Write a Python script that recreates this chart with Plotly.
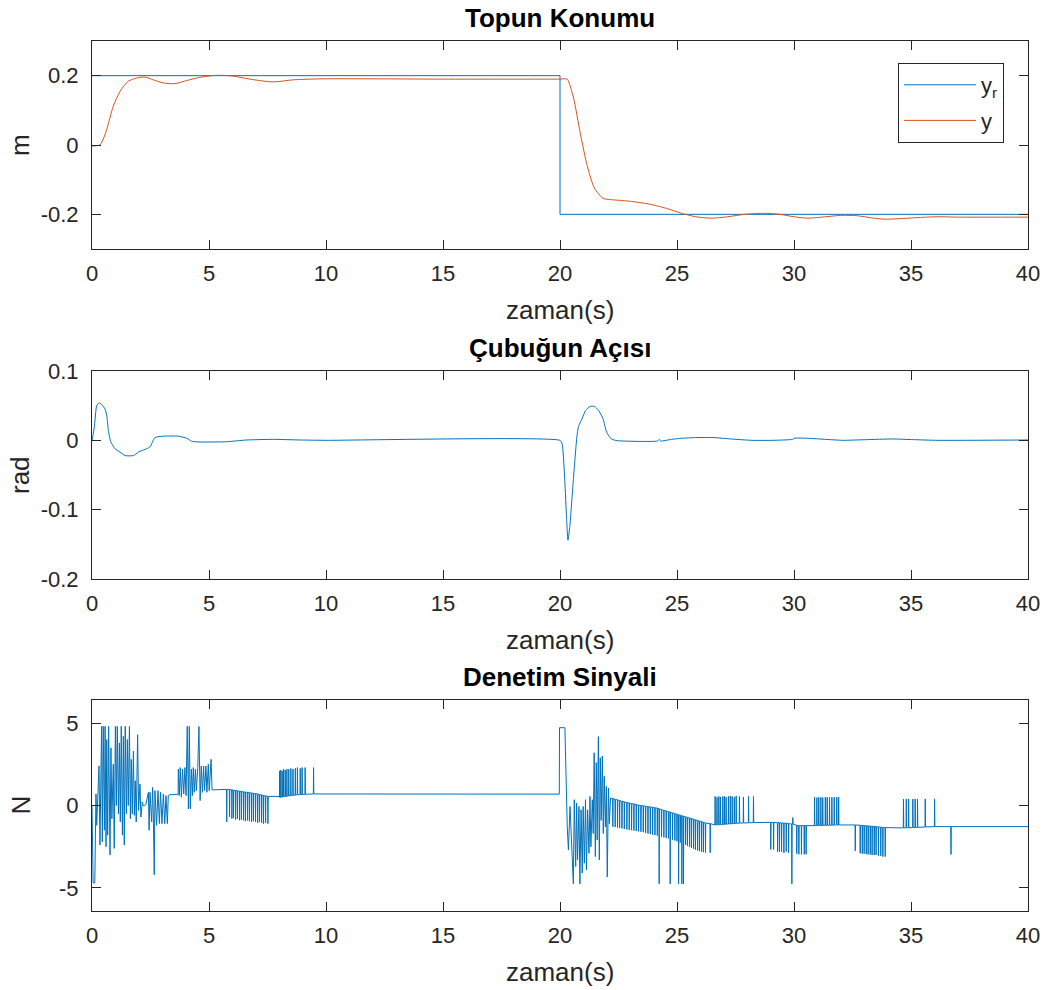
import plotly.graph_objects as go

# ---------------- data: ball position ----------------
t_ref = [0, 20, 20, 40]
y_ref = [0.2, 0.2, -0.2, -0.2]

t_pos = [0, 0.2, 0.34, 0.5, 0.63, 0.91, 1.2, 1.55, 1.91, 2.26, 2.62, 3.05, 3.55, 4.05, 4.6,
         5.3, 6.0, 6.75, 7.75, 8.6, 10, 15, 20, 20.3, 20.57, 20.87, 21.17, 21.47, 21.84,
         22.07, 22.96, 23.86, 24.61, 25.2, 25.8, 26.48, 27.16, 27.9, 28.73, 29.4, 30.0,
         30.6, 31.35, 32.0, 32.7, 33.3, 33.9, 34.65, 35.4, 36.15, 36.9, 40]
y_pos = [-0.003, -0.002, 0.0, 0.02, 0.045, 0.112, 0.155, 0.184, 0.193, 0.196, 0.188, 0.179,
         0.177, 0.186, 0.195, 0.201, 0.199, 0.19, 0.182, 0.188, 0.191, 0.19, 0.19, 0.19,
         0.138, 0.033, -0.062, -0.124, -0.154, -0.157, -0.162, -0.171, -0.184, -0.197,
         -0.207, -0.211, -0.207, -0.2, -0.197, -0.2, -0.207, -0.211, -0.207, -0.203,
         -0.204, -0.21, -0.214, -0.212, -0.209, -0.207, -0.208, -0.208]

# ---------------- data: beam angle ----------------
t_ang = [0, 0.1, 0.2, 0.31, 0.41, 0.56, 0.63, 0.7, 0.8, 0.98, 1.2, 1.41, 1.77, 1.98, 2.34,
         2.48, 2.69, 3.05, 3.69, 4.05, 4.26, 4.62, 5.75, 6.6, 7.75, 8.9, 10, 20, 20.09,
         20.19, 20.27, 20.34, 20.42, 20.57, 20.72, 20.79, 20.94, 21.09, 21.29, 21.47,
         21.65, 21.84, 21.99, 22.19, 22.44, 24.16, 24.24, 24.3, 24.76, 25.2, 25.8, 26.56,
         27.3, 28.2, 29.1, 29.94, 30.0, 30.6, 31.35, 32.1, 33.1, 34.2, 35.1, 36.15, 40]
ang = [0, 0.019, 0.05, 0.054, 0.052, 0.045, 0.036, 0.014, -0.002, -0.012, -0.017, -0.022,
       -0.022, -0.017, -0.012, -0.0096, 0.004, 0.006, 0.006, 0.003, -0.0014, -0.0024,
       -0.002, 0.0005, 0.0014, 0.0005, 0, 0, -0.005, -0.048, -0.105, -0.144, -0.124,
       -0.057, 0.005, 0.02, 0.031, 0.043, 0.049, 0.049, 0.043, 0.031, 0.012, 0.002,
       -0.0005, -0.001, 0.0014, -0.001, 0.0014, 0.003, 0.004, 0.004, 0.002, 0, 0,
       0.0014, 0.003, 0.003, 0.0014, 0, 0.001, 0.002, 0.001, 0, 0.0005]

# ---------------- data: control signal ----------------
# dense, oscillating stretches (explicit samples)
uA_t = [0, 0.05, 0.12, 0.17, 0.2, 0.3, 0.34, 0.38, 0.41, 0.44, 0.48, 0.53, 0.56, 0.6, 0.63,
        0.67, 0.71, 0.77, 0.81, 0.85, 0.91, 0.95, 1.0, 1.04, 1.08, 1.13, 1.17, 1.21, 1.25,
        1.3, 1.34, 1.38, 1.42, 1.47, 1.51, 1.55, 1.6, 1.64, 1.68, 1.72, 1.77, 1.81, 1.85,
        1.89, 1.95, 1.99, 2.05, 2.09, 2.15, 2.19]
uA_v = [0, -4.7, -4.7, 0.7, -1.2, 2.4, -2.4, 2.5, 4.8, -2.2, 4.8, -1.5, 4.8, -2.5, 4.0,
        -1.8, 4.8, -3.0, 3.5, -0.8, 2.5, -2.6, 4.8, 0.0, 4.8, -0.5, 3.8, -1.0, 4.8, -1.8,
        4.2, -2.4, 4.8, -0.5, 4.0, 0.0, 4.8, -0.8, 2.8, -0.5, 3.3, -0.6, 1.5, -1.0, 4.3,
        -0.3, 1.3, -0.7, 0.2, 0.0]
uB_t = [2.25, 2.3, 2.41, 2.44, 2.48, 2.55, 2.59, 2.62, 2.66, 2.69, 2.76, 2.82, 2.88, 2.93,
        2.99, 3.05, 3.11, 3.16, 3.22, 3.26, 3.3]
uB_v = [0.0, 0.05, 0.8, -1.5, 0.8, -1.0, 1.1, -0.5, -4.2, 0.9, -1.2, 0.9, -1.1, 0.8, -1.1,
        0.7, -1.1, 0.6, -1.1, 0.6, 0.65]
uC_t = [3.68, 3.69, 3.73, 3.77, 3.82, 3.87, 3.92, 3.97, 4.02, 4.07, 4.12, 4.16, 4.2, 4.25,
        4.29, 4.33, 4.37, 4.42, 4.46, 4.52, 4.57, 4.62, 4.67, 4.72, 4.77, 4.81, 4.87, 4.91,
        4.97, 5.01, 5.09, 5.13, 5.19, 5.5]
uC_v = [0.68, 2.2, 0.6, 2.3, 0.5, 2.2, 0.7, 2.3, 0.6, 4.8, -0.2, 4.8, -0.2, 2.2, 0.6, 2.3,
        0.8, 2.2, 0.9, 2.3, 4.8, 0.3, 2.4, 0.8, 2.4, 0.9, 2.4, 0.8, 2.5, 0.9, 2.8, 0.95,
        0.95, 0.97]
uG_t = [7.55, 8.0, 9.5, 19.97, 19.98, 20.21, 20.31, 20.36, 20.43, 20.5, 20.57, 20.61, 20.67,
        20.71, 20.75, 20.81, 20.85, 20.9, 20.95, 20.99, 21.04, 21.09, 21.13, 21.18, 21.24,
        21.28, 21.32, 21.38, 21.42, 21.46, 21.51, 21.55, 21.59, 21.64, 21.68, 21.72, 21.76,
        21.81, 21.85, 21.89, 21.94, 21.98, 22.02, 22.07, 22.11, 22.16]
uG_v = [0.55, 0.55, 0.7, 0.69, 4.72, 4.72, -1.3, -2.7, -0.06, -2.9, -4.75, 0.35, -3.7, 0.15,
        -3.3, -0.06, -4.75, -0.26, -4.1, -0.06, -3.5, 0.35, -3.9, -0.26, -2.9, 0.55, -2.5,
        0.35, -1.7, 3.2, -3.1, 2.6, -2.1, 4.18, -3.3, 2.9, -0.9, 3.0, -1.7, 1.77, -1.3,
        1.16, -4.34, 1.06, -1.1, 0.45]

# comb-like stretches: spike time, level between spikes, spike tip
combD_t = [5.75, 5.87, 5.97, 6.04, 6.13, 6.21, 6.3, 6.38, 6.47, 6.55, 6.64, 6.72, 6.81, 6.89,
           6.98, 7.07, 7.15, 7.24, 7.32, 7.41, 7.51]
combD_base = [0.98, 0.97, 0.95, 0.93, 0.91, 0.89, 0.87, 0.85, 0.83, 0.81, 0.8, 0.78, 0.76,
              0.74, 0.72, 0.7, 0.67, 0.64, 0.61, 0.58, 0.55]
combD_tip = [-1.0, -0.7, -0.8, -0.75, -0.85, -0.8, -0.9, -0.85, -0.9, -0.95, -0.9, -0.95,
             -1.0, -0.95, -1.0, -1.05, -1.0, -1.05, -1.1, -1.05, -1.1]

combE_t = [8.01, 8.06, 8.12, 8.18, 8.25, 8.32, 8.4, 8.49, 8.58, 8.68, 8.77, 8.89, 8.97, 9.1, 9.46]
combE_base = [0.5, 0.5, 0.52, 0.53, 0.55, 0.56, 0.58, 0.6, 0.62, 0.63, 0.65, 0.66, 0.67, 0.68, 0.7]
combE_tip = [2.1, 2.15, 2.1, 2.2, 2.15, 2.2, 2.2, 2.25, 2.2, 2.25, 2.3, 2.25, 2.3, 2.3, 2.3]

combF_t = [22.25, 22.35, 22.45, 22.54, 22.64, 22.74, 22.85, 22.95, 23.05, 23.15, 23.25, 23.35,
           23.45, 23.55, 23.65, 23.75, 23.85, 23.95, 24.05, 24.15, 24.23, 24.33, 24.43, 24.53,
           24.63, 24.7, 24.8, 24.9, 24.99, 25.06, 25.13, 25.2, 25.27, 25.36, 25.44, 25.53,
           25.61, 25.7, 25.78, 25.87, 25.95, 26.04, 26.12, 26.21, 26.41]
combF_base = [0.42, 0.38, 0.34, 0.3, 0.26, 0.22, 0.18, 0.15, 0.12, 0.09, 0.06, 0.02, 0.0,
              -0.02, -0.04, -0.07, -0.09, -0.11, -0.14, -0.16, -0.2, -0.25, -0.29, -0.33,
              -0.38, -0.41, -0.45, -0.49, -0.53, -0.56, -0.59, -0.62, -0.65, -0.69, -0.72,
              -0.76, -0.79, -0.83, -0.87, -0.91, -0.94, -0.98, -1.02, -1.06, -1.1]
combF_tip = [-1.28, -1.3, -1.33, -1.36, -1.39, -1.42, -1.45, -1.48, -1.5, -1.52, -1.55, -1.57,
             -1.59, -1.62, -1.66, -1.7, -1.73, -1.77, -1.8, -1.83, -4.75, -1.9, -1.93, -1.97,
             -2.0, -4.75, -2.07, -2.12, -2.17, -4.75, -2.25, -4.75, -4.75, -2.38, -2.45,
             -2.5, -2.56, -2.62, -2.68, -2.72, -2.77, -2.8, -2.83, -2.85, -2.87]

combH_t = [26.62, 26.7, 26.78, 26.85, 26.95, 27.02, 27.09, 27.19, 27.27, 27.35, 27.44, 27.52,
           27.66, 27.83, 28.05, 28.26]
combH_base = [-1.18, -1.17, -1.17, -1.16, -1.15, -1.14, -1.13, -1.12, -1.11, -1.1, -1.09,
              -1.08, -1.07, -1.06, -1.05, -1.04]
combH_tip = [0.55, 0.5, 0.55, 0.52, 0.55, 0.55, 0.5, 0.55, 0.58, 0.55, 0.5, 0.58, 0.55, 0.52,
             0.55, 0.55]

combI_t = [29.0, 29.12, 29.29, 29.37, 29.46, 29.56, 29.66, 29.76, 29.9, 29.94, 30.11, 30.2,
           30.31, 30.43, 30.51]
combI_base = [-1.02, -1.03, -1.04, -1.05, -1.06, -1.07, -1.08, -1.1, -1.12, -1.12, -1.2,
              -1.21, -1.22, -1.22, -1.22]
combI_tip = [-2.67, -2.67, -2.8, -2.8, -2.8, -2.87, -2.8, -2.87, -4.75, -0.73, -2.92, -2.96,
             -2.96, -2.96, -2.96]

combJ_t = [30.87, 30.97, 31.05, 31.14, 31.22, 31.33, 31.41, 31.51, 31.61, 31.71, 31.82, 31.9]
combJ_base = [-1.22, -1.22, -1.21, -1.21, -1.21, -1.2, -1.2, -1.2, -1.19, -1.19, -1.18, -1.18]
combJ_tip = [0.5, 0.48, 0.5, 0.5, 0.48, 0.5, 0.5, 0.48, 0.5, 0.5, 0.5, 0.52]

combK_t = [32.61, 32.82, 32.91, 32.99, 33.08, 33.16, 33.25, 33.33, 33.42, 33.5, 33.6, 33.7,
           33.79, 33.89]
combK_base = [-1.18, -1.2, -1.21, -1.22, -1.23, -1.24, -1.25, -1.26, -1.27, -1.28, -1.3,
              -1.31, -1.33, -1.34]
combK_tip = [-2.75, -2.9, -2.92, -2.92, -2.95, -2.97, -2.97, -3.0, -3.0, -3.0, -3.05, -3.05,
             -3.1, -3.1]

combL_t = [34.67, 34.79, 34.89, 35.07, 35.17, 35.27, 35.6, 36.0, 36.7]
combL_base = [-1.36, -1.35, -1.35, -1.34, -1.33, -1.33, -1.3, -1.28, -1.28]
combL_tip = [0.39, 0.39, 0.4, 0.39, 0.4, 0.4, 0.4, 0.4, -2.97]

u_end_t = [40]
u_end_v = [-1.28]

# x-axis ticks
x_ticks = [0, 5, 10, 15, 20, 25, 30, 35, 40]


def comb(ts, base, tip):
    xs, ys = [], []
    for t, b, p in zip(ts, base, tip):
        xs += [t, t + 0.008, t + 0.02]
        ys += [b, p, b]
    return xs, ys


u_t, u_v = [], []
segments = [
    (uA_t, uA_v), (uB_t, uB_v), (uC_t, uC_v),
    comb(combD_t, combD_base, combD_tip),
    (uG_t[:2], uG_v[:2]),
    comb(combE_t, combE_base, combE_tip),
    (uG_t[2:], uG_v[2:]),
    comb(combF_t, combF_base, combF_tip),
    comb(combH_t, combH_base, combH_tip),
    comb(combI_t, combI_base, combI_tip),
    comb(combJ_t, combJ_base, combJ_tip),
    comb(combK_t, combK_base, combK_tip),
    comb(combL_t, combL_base, combL_tip),
    (u_end_t, u_end_v),
]
for xs, ys in segments:
    u_t += list(xs)
    u_v += list(ys)

BLUE = '#0072BD'
ORANGE = '#D95319'
AX = '#262626'
FONT = 'Liberation Sans, Arial, Helvetica, sans-serif'
W, H = 1049, 990

fig = go.Figure()
fig.add_trace(go.Scatter(x=t_ref, y=y_ref, mode='lines', name='y<sub>r</sub>', legendgroup='a',
                         line=dict(color=BLUE, width=1), xaxis='x', yaxis='y'))
fig.add_trace(go.Scatter(x=t_pos, y=y_pos, mode='lines', name='y', legendgroup='b',
                         line=dict(color=ORANGE, width=1, shape='spline', smoothing=0.7),
                         xaxis='x', yaxis='y'))
fig.add_trace(go.Scatter(x=t_ang, y=ang, mode='lines', showlegend=False,
                         line=dict(color=BLUE, width=1, shape='spline', smoothing=0.5),
                         xaxis='x2', yaxis='y2'))
fig.add_trace(go.Scatter(x=u_t, y=u_v, mode='lines', showlegend=False,
                         line=dict(color=BLUE, width=1), xaxis='x3', yaxis='y3'))

# plot boxes in pixels (left, right, top, bottom)
L, R = 92, 1028
boxes = [(41, 249), (371, 579), (700, 911)]


def px_dom_y(top, bot):
    return [1 - bot / H, 1 - top / H]


common = dict(showline=True, linecolor=AX, linewidth=1, mirror='ticks', ticks='inside',
              ticklen=9, tickwidth=1, tickcolor=AX, showgrid=False, zeroline=False,
              automargin=False, tickfont=dict(family=FONT, size=22, color=AX))

xdom = [L / W, R / W]
layout = dict(width=W, height=H, margin=dict(l=0, r=0, t=0, b=0, pad=0, autoexpand=False),
              paper_bgcolor='white', plot_bgcolor='white', showlegend=True,
              font=dict(family=FONT, color=AX))
for i, (top, bot) in enumerate(boxes):
    sfx = '' if i == 0 else str(i + 1)
    layout['xaxis' + sfx] = dict(common, domain=xdom, anchor='y' + sfx, range=[0, 40],
                                 tickvals=x_ticks, ticktext=[str(v) for v in x_ticks],
                                 ticklabelstandoff=5)
y1_ticks = [-0.2, 0, 0.2]
y2_ticks = [-0.2, -0.1, 0, 0.1]
y3_ticks = [-5, 0, 5]
layout['yaxis'] = dict(common, domain=px_dom_y(*boxes[0]), anchor='x', range=[-0.3, 0.3],
                       tickvals=y1_ticks, ticktext=['-0.2', '0', '0.2'], ticklabelstandoff=8)
layout['yaxis2'] = dict(common, domain=px_dom_y(*boxes[1]), anchor='x2', range=[-0.2, 0.1],
                        tickvals=y2_ticks, ticktext=['-0.2', '-0.1', '0', '0.1'],
                        ticklabelstandoff=8)
layout['yaxis3'] = dict(common, domain=px_dom_y(*boxes[2]), anchor='x3', range=[-6.4, 6.4],
                        tickvals=y3_ticks, ticktext=['-5', '0', '5'], ticklabelstandoff=8)

layout['legend'] = dict(x=898 / W, y=1 - 63 / H, xanchor='left', yanchor='top',
                        bordercolor=AX, borderwidth=1, bgcolor='white', itemwidth=72,
                        tracegroupgap=4,
                        font=dict(family=FONT, size=22, color=AX))

titles = ['Topun Konumu', 'Çubuğun Açısı', 'Denetim Sinyali']
ylabels = ['m', 'rad', 'N']
ann = []
cx = (L + R) / 2 / W
for (top, bot), ttl, yl in zip(boxes, titles, ylabels):
    ann.append(dict(text='<b>' + ttl + '</b>', x=cx, y=1 - top / H, xref='paper', yref='paper',
                    xanchor='center', yanchor='bottom', yshift=6, showarrow=False,
                    font=dict(family=FONT, size=26, color='#000000')))
    ann.append(dict(text='zaman(s)', x=cx, y=1 - (bot + 61) / H, xref='paper', yref='paper',
                    xanchor='center', yanchor='middle', showarrow=False,
                    font=dict(family=FONT, size=26, color=AX)))
    ann.append(dict(text=yl, x=20 / W, y=1 - (top + bot) / 2 / H, xref='paper', yref='paper',
                    xanchor='center', yanchor='middle', textangle=-90, showarrow=False,
                    font=dict(family=FONT, size=26, color=AX)))
layout['annotations'] = ann

fig.update_layout(**layout)
fig.write_html('out.html')
